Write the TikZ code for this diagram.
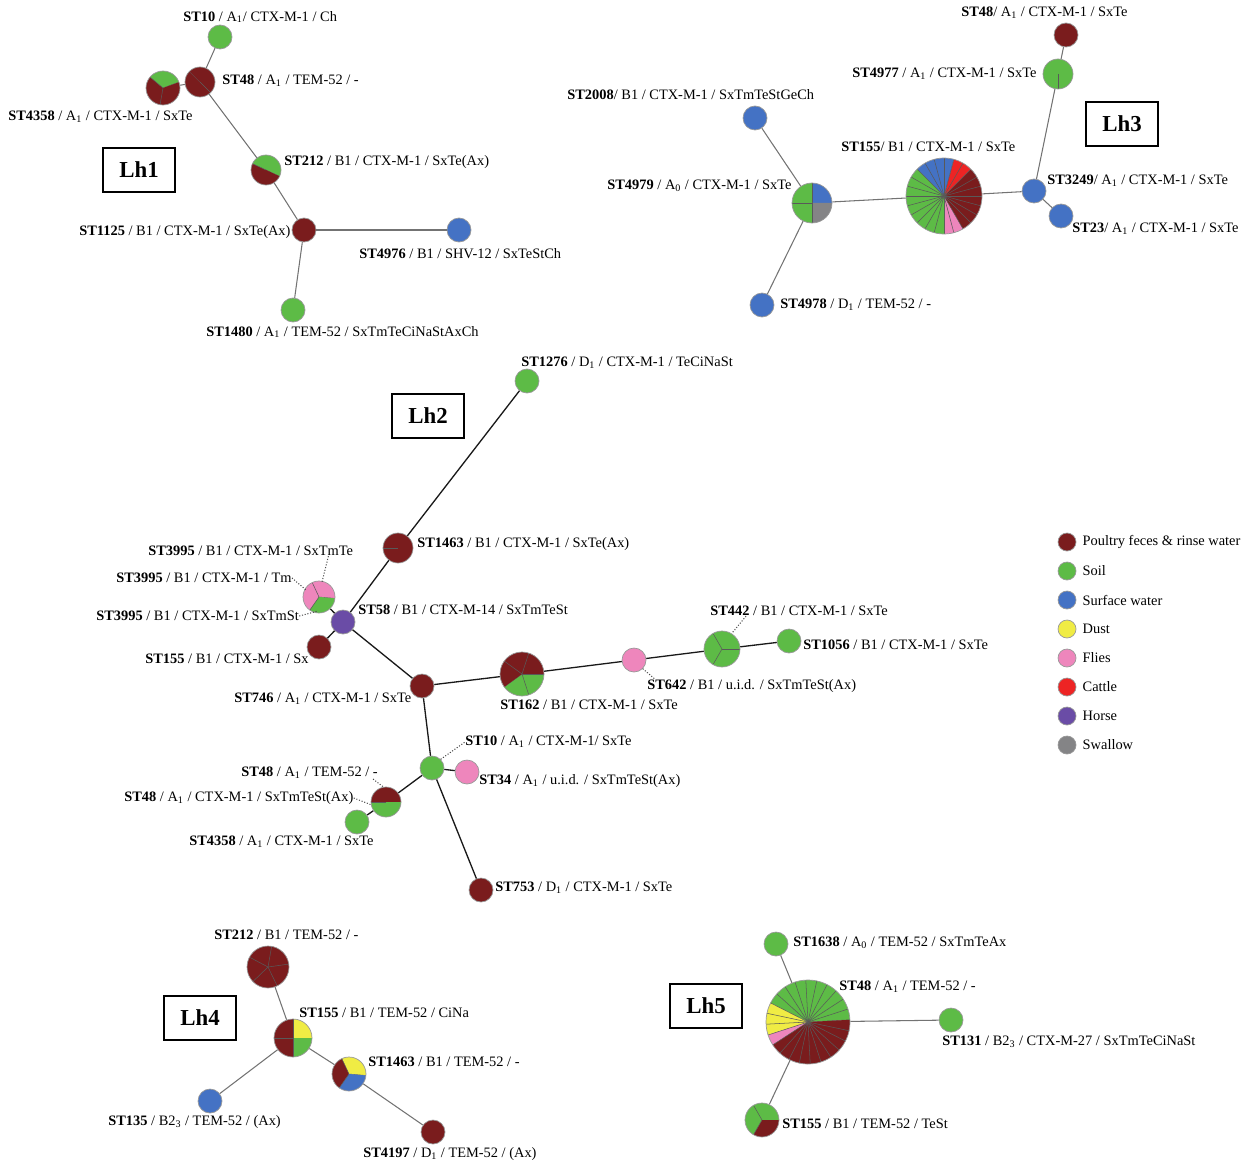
\documentclass[tikz,border=0pt]{standalone}
\usepackage{fontspec}
\setmainfont{Liberation Serif}
\usepackage{tikz}
\usetikzlibrary{positioning}

\definecolor{poultry}{RGB}{122,28,29}
\definecolor{soil}{RGB}{93,187,70}
\definecolor{water}{RGB}{68,114,196}
\definecolor{dust}{RGB}{240,236,68}
\definecolor{flies}{RGB}{238,134,188}
\definecolor{cattle}{RGB}{237,36,36}
\definecolor{horse}{RGB}{106,76,166}
\definecolor{swallow}{RGB}{132,132,134}

\newcommand{\st}[1]{\textbf{ST#1}}
\newcommand{\subn}[1]{\textsubscript{#1}}
% pie over a named node: node, radius, slice angle, list from/to/colour
\newcommand{\pie}[4]{%
  \foreach \pa/\pb/\pc in {#4} {
    \fill[\pc] (#1.center) -- ++(\pa:#2) arc[start angle=\pa, end angle=\pb, radius=#2] -- cycle;
    \pgfmathtruncatemacro{\nseg}{round((\pb-\pa)/#3)-1}
    \foreach \k in {0,...,\nseg} {\draw[spoke] (#1.center) -- ++({\pa+\k*#3}:#2);}
  }
  \draw[rim] (#1.center) circle[radius=#2];
}

\begin{document}
\begin{tikzpicture}[x=0.02cm, y=0.02cm,
  src/.style={circle, inner sep=0pt, minimum size=0.48cm, draw=black!40, line width=0.4pt},
  piebox/.style={circle, inner sep=0pt, minimum size={#1*0.04cm}},
  spoke/.style={draw=black!65, line width=0.3pt},
  rim/.style={draw=black!40, line width=0.4pt},
  link/.style={draw=black!55, line width=0.6pt},
  trunk/.style={draw=black!90, line width=0.75pt},
  lead/.style={draw=black!70, densely dotted, line width=0.6pt},
  lbl/.style={inner sep=0pt, anchor=west, font=\fontsize{8.2}{10}\selectfont},
  lh/.style={draw, line width=0.9pt, minimum width=1.44cm, minimum height=0.88cm,
             font=\fontsize{13}{15}\selectfont\bfseries}]
  \useasboundingbox (0,0) rectangle (1243,-1162);

  % Lh1
  \node[src, fill=soil]    (a10)   at (220,-37)  {};
  \node[piebox=15]         (a48)   at (200,-82)  {};
  \node[piebox=17]         (a4358) at (163,-88)  {};
  \node[piebox=15]         (a212)  at (266,-170) {};
  \node[src, fill=poultry] (a1125) at (304,-230) {};
  \node[src, fill=water]   (a4976) at (459,-230) {};
  \node[src, fill=soil]    (a1480) at (293,-310) {};
  \node[lh] (lh1) at (139,-170) {Lh1};
  \foreach \u/\v in {a10/a48, a48/a4358, a48/a212, a212/a1125, a1125/a4976, a1125/a1480}
    \draw[link] (\u) -- (\v);
  \pie{a48}{15}{180}{135/315/poultry, -45/135/poultry}
  \pie{a4358}{17}{120}{20/140/soil, 140/380/poultry}
  \pie{a212}{15}{180}{-25/155/soil, 155/335/poultry}
  \node[lbl] (la10)   at (183,-17)  {\st{10} / A\subn{1}/ CTX-M-1 / Ch};
  \node[lbl] (la48)   at (222,-81)  {\st{48} / A\subn{1} / TEM-52 / -};
  \node[lbl] (la4358) at (8,-117)   {\st{4358} / A\subn{1} / CTX-M-1 / SxTe};
  \node[lbl] (la212)  at (284,-162) {\st{212} / B1 / CTX-M-1 / SxTe(Ax)};
  \node[lbl] (la1125) at (79,-232)  {\st{1125} / B1 / CTX-M-1 / SxTe(Ax)};
  \node[lbl] (la4976) at (359,-254) {\st{4976} / B1 / SHV-12 / SxTeStCh};
  \node[lbl] (la1480) at (206,-332) {\st{1480} / A\subn{1} / TEM-52 / SxTmTeCiNaStAxCh};

  % Lh3
  \node[src, fill=poultry] (c48)   at (1066,-35)  {};
  \node[piebox=15]         (c4977) at (1058,-74)  {};
  \node[src, fill=water]   (c2008) at (755,-118)  {};
  \node[piebox=38]         (c155)  at (944,-196)  {};
  \node[piebox=20]         (c4979) at (812,-203)  {};
  \node[src, fill=water]   (c3249) at (1034,-191) {};
  \node[src, fill=water]   (c23)   at (1061,-216) {};
  \node[src, fill=water]   (c4978) at (762,-305)  {};
  \node[lh] (lh3) at (1122,-124) {Lh3};
  \foreach \u/\v in {c48/c4977, c4977/c3249, c3249/c155, c3249/c23, c155/c4979, c4979/c2008, c4979/c4978}
    \draw[link] (\u) -- (\v);
  \pie{c4977}{15}{180}{90/270/soil, -90/90/soil}
  \pie{c155}{38}{15}{-90/-60/flies, -60/45/poultry, 45/75/cattle, 75/135/water, 135/270/soil}
  \pie{c4979}{20}{90}{0/90/water, 90/270/soil, 270/360/swallow}
  \node[lbl] (lc48)   at (961,-13)   {\st{48}/ A\subn{1} / CTX-M-1 / SxTe};
  \node[lbl] (lc4977) at (852,-74)   {\st{4977} / A\subn{1} / CTX-M-1 / SxTe};
  \node[lbl] (lc2008) at (567,-95)   {\st{2008}/ B1 / CTX-M-1 / SxTmTeStGeCh};
  \node[lbl] (lc155)  at (841,-147)  {\st{155}/ B1 / CTX-M-1 / SxTe};
  \node[lbl] (lc4979) at (607,-186)  {\st{4979} / A\subn{0} / CTX-M-1 / SxTe};
  \node[lbl] (lc3249) at (1047,-181) {\st{3249}/ A\subn{1} / CTX-M-1 / SxTe};
  \node[lbl] (lc23)   at (1072,-229) {\st{23}/ A\subn{1} / CTX-M-1 / SxTe};
  \node[lbl] (lc4978) at (780,-305)  {\st{4978} / D\subn{1} / TEM-52 / -};

  % Lh2
  \node[src, fill=soil]    (b1276) at (527,-381) {};
  \node[piebox=15]         (b1463) at (398,-548) {};
  \node[piebox=16]         (b3995) at (319,-597) {};
  \node[src, fill=horse]   (b58)   at (343,-622) {};
  \node[src, fill=poultry] (b155)  at (319,-647) {};
  \node[src, fill=poultry] (b746)  at (422,-686) {};
  \node[piebox=22]         (b162)  at (522,-674) {};
  \node[src, fill=flies]   (b642)  at (634,-660) {};
  \node[piebox=18]         (b442)  at (722,-649) {};
  \node[src, fill=soil]    (b1056) at (789,-641) {};
  \node[src, fill=soil]    (b10)   at (432,-768) {};
  \node[src, fill=flies]   (b34)   at (467,-772) {};
  \node[piebox=15]         (b48)   at (386,-802) {};
  \node[src, fill=soil]    (b4358) at (357,-822) {};
  \node[src, fill=poultry] (b753)  at (481,-890) {};
  \node[lh] (lh2) at (428,-416) {Lh2};
  \foreach \u/\v in {b1276/b1463, b1463/b58, b58/b3995, b58/b155, b58/b746, b746/b162, b162/b642,
                     b642/b442, b442/b1056, b746/b10, b10/b34, b10/b48, b48/b4358, b10/b753}
    \draw[trunk] (\u) -- (\v);
  \pie{b1463}{15}{180}{0/180/poultry, 180/360/poultry}
  \pie{b3995}{16}{120}{-5/235/flies, 235/355/soil}
  \pie{b162}{22}{72}{-144/0/soil, 0/216/poultry}
  \pie{b442}{18}{120}{0/360/soil}
  \pie{b48}{15}{180}{0/180/poultry, 180/360/soil}
  \node[lbl] (lb1276)  at (521,-363) {\st{1276} / D\subn{1} / CTX-M-1 / TeCiNaSt};
  \node[lbl] (lb1463)  at (417,-544) {\st{1463} / B1 / CTX-M-1 / SxTe(Ax)};
  \node[lbl] (lb3995a) at (148,-551) {\st{3995} / B1 / CTX-M-1 / SxTmTe};
  \node[lbl] (lb3995b) at (116,-578) {\st{3995} / B1 / CTX-M-1 / Tm};
  \node[lbl] (lb3995c) at (96,-616)  {\st{3995} / B1 / CTX-M-1 / SxTmSt};
  \node[lbl] (lb58)    at (358,-610) {\st{58} / B1 / CTX-M-14 / SxTmTeSt};
  \node[lbl] (lb155)   at (145,-659) {\st{155} / B1 / CTX-M-1 / Sx};
  \node[lbl] (lb746)   at (234,-699) {\st{746} / A\subn{1} / CTX-M-1 / SxTe};
  \node[lbl] (lb162)   at (500,-705) {\st{162} / B1 / CTX-M-1 / SxTe};
  \node[lbl] (lb442)   at (710,-611) {\st{442} / B1 / CTX-M-1 / SxTe};
  \node[lbl] (lb642)   at (647,-686) {\st{642} / B1 / u.i.d. / SxTmTeSt(Ax)};
  \node[lbl] (lb1056)  at (803,-645) {\st{1056} / B1 / CTX-M-1 / SxTe};
  \node[lbl] (lb10)    at (465,-742) {\st{10} / A\subn{1} / CTX-M-1/ SxTe};
  \node[lbl] (lb34)    at (479,-781) {\st{34} / A\subn{1} / u.i.d. / SxTmTeSt(Ax)};
  \node[lbl] (lb48a)   at (241,-773) {\st{48} / A\subn{1} / TEM-52 / -};
  \node[lbl] (lb48b)   at (124,-798) {\st{48} / A\subn{1} / CTX-M-1 / SxTmTeSt(Ax)};
  \node[lbl] (lb4358)  at (189,-842) {\st{4358} / A\subn{1} / CTX-M-1 / SxTe};
  \node[lbl] (lb753)   at (495,-888) {\st{753} / D\subn{1} / CTX-M-1 / SxTe};
  % leaders
  \coordinate (t3995a) at (322,-582);
  \coordinate (t3995b) at (306,-590);
  \coordinate (t3995c) at (318,-611);
  \draw[lead] ([xshift=-0.5cm]lb3995a.south east) -- (t3995a);
  \draw[lead] (lb3995b.east) -- (t3995b);
  \draw[lead] (lb3995c.east) -- (t3995c);
  \draw[lead] ([xshift=0.72cm]lb442.south west) -- (b442.58);
  \draw[lead] (b642.-45) -- ([xshift=0.16cm]lb642.north west);
  \draw[lead] (b10.45) -- (lb10.west);
  \draw[lead] ([xshift=-0.1cm]lb48a.south east) -- (b48.100);
  \draw[lead] (lb48b.east) -- (b48.190);

  % Lh4
  \node[piebox=21]         (d212)  at (268,-967)  {};
  \node[piebox=19]         (d155)  at (293,-1038) {};
  \node[piebox=17]         (d1463) at (349,-1074) {};
  \node[src, fill=water]   (d135)  at (210,-1101) {};
  \node[src, fill=poultry] (d4197) at (433,-1132) {};
  \node[lh] (lh4) at (200,-1018) {Lh4};
  \foreach \u/\v in {d212/d155, d155/d135, d155/d1463, d1463/d4197}
    \draw[link] (\u) -- (\v);
  \pie{d212}{21}{72}{8/368/poultry}
  \pie{d155}{19}{90}{0/90/dust, 90/270/poultry, 270/360/soil}
  \pie{d1463}{17}{120}{-5/115/dust, 115/235/poultry, 235/355/water}
  \node[lbl] (ld212)  at (214,-935)  {\st{212} / B1 / TEM-52 / -};
  \node[lbl] (ld155)  at (299,-1013) {\st{155} / B1 / TEM-52 / CiNa};
  \node[lbl] (ld1463) at (368,-1062) {\st{1463} / B1 / TEM-52 / -};
  \node[lbl] (ld135)  at (108,-1122) {\st{135} / B2\subn{3} / TEM-52 / (Ax)};
  \node[lbl] (ld4197) at (363,-1154) {\st{4197} / D\subn{1} / TEM-52 / (Ax)};

  % Lh5
  \node[src, fill=soil] (e1638) at (776,-944)  {};
  \node[piebox=42]      (e48)   at (808,-1022) {};
  \node[src, fill=soil] (e131)  at (951,-1020) {};
  \node[piebox=17]      (e155)  at (762,-1120) {};
  \node[lh] (lh5) at (706,-1006) {Lh5};
  \foreach \u/\v in {e1638/e48, e48/e131, e48/e155}
    \draw[link] (\u) -- (\v);
  \pie{e48}{42}{15}{3/153/soil, 153/198/dust, 198/213/flies, 213/363/poultry}
  \pie{e155}{17}{120}{0/240/soil, 240/360/poultry}
  \node[lbl] (le1638) at (793,-943)  {\st{1638} / A\subn{0} / TEM-52 / SxTmTeAx};
  \node[lbl] (le48)   at (839,-987)  {\st{48} / A\subn{1} / TEM-52 / -};
  \node[lbl] (le131)  at (942,-1042) {\st{131} / B2\subn{3} / CTX-M-27 / SxTmTeCiNaSt};
  \node[lbl] (le155)  at (782,-1124) {\st{155} / B1 / TEM-52 / TeSt};

  % legend
  \foreach \c/\t [count=\i] in {poultry/Poultry feces \& rinse water, soil/Soil, water/Surface water,
      dust/Dust, flies/Flies, cattle/Cattle, horse/Horse, swallow/Swallow} {
    \node[src, minimum size=0.36cm, fill=\c] (key\i) at (1067,{-542-29*(\i-1)}) {};
    \node[lbl, right=0.12cm of key\i] (keytxt\i) {\t};
  }
\end{tikzpicture}
\end{document}
